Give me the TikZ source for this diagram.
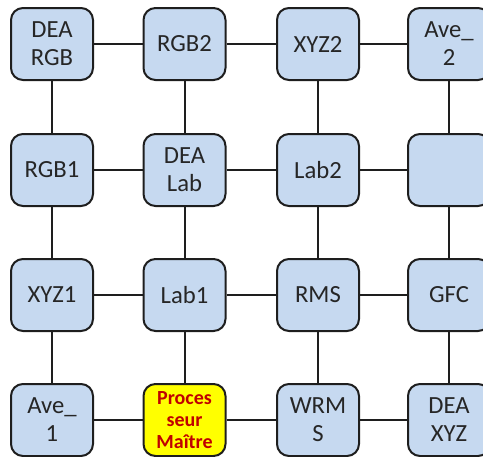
\documentclass[tikz,border=0pt]{standalone}
\usepackage{fontspec}
\setmainfont{Carlito}
\definecolor{cellblue}{RGB}{198,217,240}
\definecolor{edgegray}{RGB}{30,30,30}
\definecolor{masteryellow}{RGB}{255,255,0}
\definecolor{masterred}{RGB}{192,0,0}
\usetikzlibrary{positioning}

\begin{document}
\begin{tikzpicture}[x=0.75pt, y=-0.75pt,
    cell/.style={rounded corners=9pt, minimum width=61.5pt, minimum height=54pt,
      inner sep=1pt, align=center, fill=cellblue, draw=edgegray, line width=1.5pt,
      font=\fontsize{18.5}{21}\selectfont, text=black!85},
    master/.style={cell, fill=masteryellow, text=masterred,
      font=\fontsize{15}{16.2}\selectfont\bfseries},
    link/.style={edgegray, line width=1.5pt},
  ]
    \useasboundingbox (0,0) rectangle (483,457);

    % first row
    \node[cell] (deargb) at (52, 44) {DEA\\RGB};
    \node[cell] (rgbtwo) at (184.5, 44) {RGB2};
    \node[cell] (xyztwo) at (318, 44) {XYZ2};
    \node[cell] (avetwo) at (449, 44) {Ave\_\\2};

    % second row
    \node[cell] (rgbone) at (52, 170) {RGB1};
    \node[cell] (dealab) at (184.5, 170) {DEA\\Lab};
    \node[cell] (labtwo) at (318, 170) {Lab2};
    \node[cell] (blank) at (449, 170) {};

    % third row
    \node[cell] (xyzone) at (52, 295) {XYZ1};
    \node[cell] (labone) at (184.5, 295) {Lab1};
    \node[cell] (rms) at (318, 295) {RMS};
    \node[cell] (gfc) at (449, 295) {GFC};

    % fourth row
    \node[cell] (aveone) at (52, 420) {Ave\_\\1};
    \node[master] (maitre) at (184.5, 420) {Proces\\seur\\Maître};
    \node[cell] (wrms) at (318, 420) {WRM\\S};
    \node[cell] (deaxyz) at (449, 420) {DEA\\XYZ};

    % horizontal links
    \draw[link] (deargb) -- (rgbtwo) -- (xyztwo) -- (avetwo);
    \draw[link] (rgbone) -- (dealab) -- (labtwo) -- (blank);
    \draw[link] (xyzone) -- (labone) -- (rms) -- (gfc);
    \draw[link] (aveone) -- (maitre) -- (wrms) -- (deaxyz);

    % vertical links
    \draw[link] (deargb) -- (rgbone) -- (xyzone) -- (aveone);
    \draw[link] (rgbtwo) -- (dealab) -- (labone) -- (maitre);
    \draw[link] (xyztwo) -- (labtwo) -- (rms) -- (wrms);
    \draw[link] (avetwo) -- (blank) -- (gfc) -- (deaxyz);
  \end{tikzpicture}
\end{document}
